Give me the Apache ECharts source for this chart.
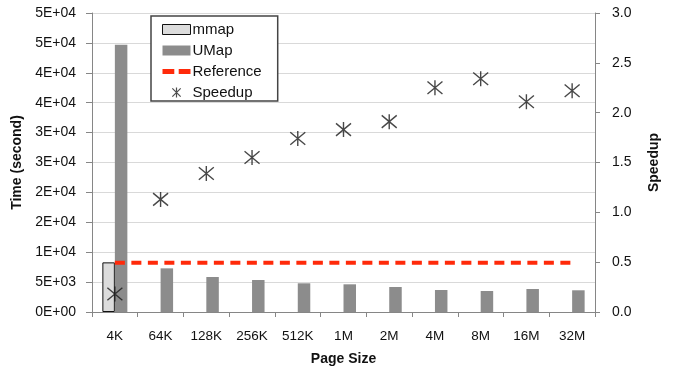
<!DOCTYPE html>
<html>
<head>
<meta charset="utf-8">
<script src="https://cdn.jsdelivr.net/npm/echarts@6/dist/echarts.min.js"></script>
<style>
html,body{margin:0;padding:0;background:#fff;}
#chart{width:673px;height:373px;}
</style>
</head>
<body>
<div id="chart"></div>
<script>
var categories = ['4K','64K','128K','256K','512K','1M','2M','4M','8M','16M','32M'];
var mmapTime = [8300, null, null, null, null, null, null, null, null, null, null];
var umapTime = [44700, 7300, 5850, 5350, 4800, 4630, 4180, 3680, 3510, 3850, 3630];
var referenceTime = [8240, 8240, 8240, 8240, 8240, 8240, 8240, 8240, 8240, 8240, 8240];
var speedup = [0.18, 1.13, 1.39, 1.55, 1.74, 1.83, 1.91, 2.25, 2.34, 2.11, 2.22];
var leftTickLabels = ['0E+00','5E+03','1E+04','2E+04','2E+04','3E+04','3E+04','4E+04','4E+04','5E+04','5E+04'];
var rightTickLabels = ['0.0','0.5','1.0','1.5','2.0','2.5','3.0'];

var FONT = 'Liberation Sans';
var star = 'path://M0,0L10,10M0,10L10,0M5,-1L5,11';
var dashIcon = 'path://M0,0H0.01V0.01H0Z M28.5,10H28.49V9.99H28.5Z M0,2.5H12V7.5H0Z M16.5,2.5H28.5V7.5H16.5Z';

var chart = echarts.init(document.getElementById('chart'), null, {renderer:'canvas'});
chart.setOption({
  animation: false,
  backgroundColor: '#fff',
  textStyle: {fontFamily: FONT},
  grid: {left: 92, right: 78, top: 13, bottom: 61, containLabel: false},
  legend: {
    orient: 'vertical',
    left: 151, top: 16,
    padding: [6, 16, 1, 11],
    itemWidth: 28, itemHeight: 10, itemGap: 6,
    backgroundColor: '#fff',
    borderColor: '#444', borderWidth: 1.5, borderRadius: 0,
    textStyle: {fontFamily: FONT, fontSize: 15, color: '#111', padding: [0,0,0,-3]},
    data: [
      {name: 'mmap', icon: 'rect', itemStyle: {color: '#dcdcdc', borderColor: '#111', borderWidth: 1}},
      {name: 'UMap', icon: 'rect'},
      {name: 'Reference', icon: dashIcon, itemStyle: {color: '#ff2a0a', borderWidth: 0}},
      {name: 'Speedup', icon: star, itemStyle: {color: 'none', borderColor: '#222', borderWidth: 1.2}}
    ]
  },
  xAxis: {
    type: 'category',
    data: categories,
    boundaryGap: true,
    name: 'Page Size',
    nameLocation: 'middle',
    nameGap: 40,
    nameTextStyle: {fontFamily: FONT, fontSize: 14, fontWeight: 'bold', color: '#111'},
    axisLine: {lineStyle: {color: '#868686', width: 1}},
    axisTick: {show: true, length: 5, lineStyle: {color: '#868686'}},
    axisLabel: {fontFamily: FONT, fontSize: 13.5, color: '#111', margin: 17, interval: 0}
  },
  yAxis: [
    {
      type: 'value', min: 0, max: 50000, interval: 5000,
      name: 'Time (second)', nameLocation: 'middle', nameGap: 68,
      nameTextStyle: {fontFamily: FONT, fontSize: 14, fontWeight: 'bold', color: '#111'},
      axisLine: {show: true, lineStyle: {color: '#868686'}},
      axisTick: {show: true, length: 6, lineStyle: {color: '#868686'}},
      axisLabel: {fontFamily: FONT, fontSize: 14, color: '#111', margin: 16,
        formatter: function(v){ return leftTickLabels[Math.round(v/5000)]; }},
      splitLine: {show: true, lineStyle: {color: '#d9d9d9', width: 1}}
    },
    {
      type: 'value', min: 0, max: 3, interval: 0.5, position: 'right',
      name: 'Speedup', nameLocation: 'middle', nameGap: 52, nameRotate: 90,
      nameTextStyle: {fontFamily: FONT, fontSize: 14, fontWeight: 'bold', color: '#111'},
      axisLine: {show: true, lineStyle: {color: '#868686'}},
      axisTick: {show: true, length: 5, lineStyle: {color: '#868686'}},
      axisLabel: {fontFamily: FONT, fontSize: 14, color: '#111', margin: 17,
        formatter: function(v){ return rightTickLabels[Math.round(v/0.5)]; }},
      splitLine: {show: false}
    }
  ],
  series: [
    {
      name: 'mmap', type: 'bar', data: mmapTime, yAxisIndex: 0,
      barWidth: 12.5, barGap: '0%',
      itemStyle: {color: '#dcdcdc', borderColor: '#111', borderWidth: 1}
    },
    {
      name: 'UMap', type: 'bar', data: umapTime, yAxisIndex: 0,
      barWidth: 12.5, barGap: '0%',
      itemStyle: {color: '#8c8c8c'}
    },
    {
      name: 'Reference', type: 'line', data: referenceTime, yAxisIndex: 0,
      symbol: 'none', z: 5,
      lineStyle: {color: '#ff2a0a', width: 4, type: [10, 6.5]},
      itemStyle: {color: '#ff2a0a'}
    },
    {
      name: 'Speedup', type: 'scatter', data: speedup, yAxisIndex: 1,
      symbol: star, symbolSize: 15, z: 6,
      itemStyle: {color: 'none', borderColor: '#1a1a1a', borderWidth: 1.4}
    }
  ]
});
</script>
</body>
</html>
